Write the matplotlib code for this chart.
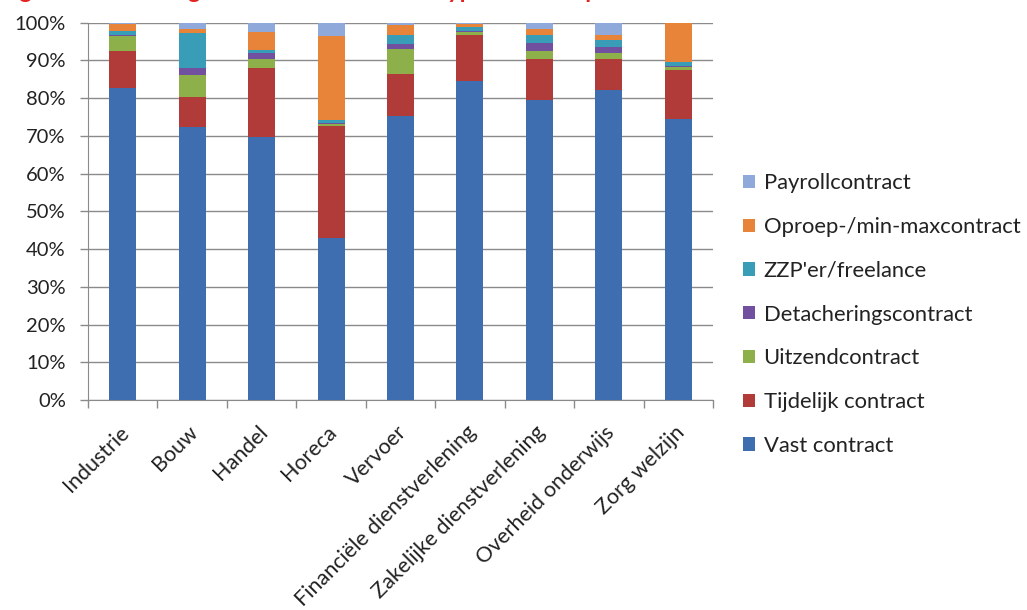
import numpy as np
from matplotlib import pyplot as plt
from matplotlib.ticker import PercentFormatter, FixedLocator, NullFormatter

plt.rcParams['font.family'] = ['Lato', 'DejaVu Sans']

sectors = ["Industrie", "Bouw", "Handel", "Horeca", "Vervoer",
           "Financiële dienstverlening", "Zakelijke dienstverlening",
           "Overheid onderwijs", "Zorg welzijn"]

# percentages per contract type, one value per sector
vast = [82.6, 72.3, 69.6, 43.0, 75.3, 84.5, 79.5, 82.1, 74.4]
tijdelijk = [10.0, 8.0, 18.3, 29.5, 11.1, 12.3, 11.0, 8.2, 13.0]
uitzend = [3.8, 5.8, 2.4, 0.7, 6.6, 0.7, 2.1, 1.6, 0.8]
detachering = [0.4, 1.8, 1.6, 0.3, 1.3, 0.3, 1.9, 1.7, 0.4]
zzp = [1.0, 9.5, 0.8, 0.6, 2.4, 1.0, 2.2, 1.8, 1.0]
oproep = [1.8, 0.9, 4.9, 22.4, 2.7, 0.8, 1.5, 1.3, 10.2]
payroll = [0.4, 1.7, 2.4, 3.5, 0.6, 0.4, 1.8, 3.3, 0.2]

series = [vast, tijdelijk, uitzend, detachering, zzp, oproep, payroll]
labels = ["Vast contract", "Tijdelijk contract", "Uitzendcontract",
          "Detacheringscontract", "ZZP'er/freelance",
          "Oproep-/min-maxcontract", "Payrollcontract"]
colors = ["#3E6EB0", "#B03B39", "#8DB04B", "#7150A0", "#3A9DB8",
          "#E8843A", "#90A9DB"]

fig = plt.figure(figsize=(10.27, 6.10), dpi=100)
ax = fig.add_axes([0.0857, 0.3443, 0.6085, 0.6185])

x = np.arange(len(sectors))
bottom = np.zeros(len(sectors))
handles = []
for vals, lab, col in zip(series, labels, colors):
    b = ax.bar(x, vals, bottom=bottom, width=0.39, color=col, label=lab, zorder=3)
    handles.append(b)
    bottom += np.array(vals)

ax.set_xlim(-0.5, len(sectors) - 0.5)
ax.set_ylim(0, 100)
ax.yaxis.set_major_locator(FixedLocator(np.arange(0, 101, 10)))
ax.yaxis.set_major_formatter(PercentFormatter(decimals=0))
ax.yaxis.grid(True, color="#8a8a8a", lw=1.0, zorder=0)

# category ticks at the boundaries, labels centred under the bars
ax.set_xticks(np.arange(-0.5, len(sectors), 1.0))
ax.xaxis.set_major_formatter(NullFormatter())
ax.set_xticks(x - 0.06, minor=True)
ax.set_xticklabels(sectors, minor=True, rotation=45, ha="right",
                   rotation_mode="anchor", fontsize=15.5, color="#222222")
ax.tick_params(axis="x", which="minor", length=0, pad=16)
ax.tick_params(axis="x", which="major", length=6, color="#8a8a8a", width=1)
ax.tick_params(axis="y", length=6, color="#8a8a8a", width=1,
               labelsize=14.5, labelcolor="#222222", pad=10)

for s in ["top", "right"]:
    ax.spines[s].set_visible(False)
ax.spines["left"].set_color("#8a8a8a")
ax.spines["bottom"].set_color("#8a8a8a")

leg = fig.legend(handles[::-1], labels[::-1], loc="upper left",
                 bbox_to_anchor=(0.704, 0.748), frameon=False, fontsize=15.8,
                 handlelength=0.55, handleheight=0.55, handletextpad=0.4,
                 labelspacing=1.08, labelcolor="#222222")

# chart title sits mostly above the cropped image edge
fig.text(0.0, 1.003, "Figuur 3: Verdeling van werknemers naar type contract per sector",
         color="#E32222", fontsize=17, fontweight="bold", ha="left", va="baseline")

fig.savefig("out.png", dpi=100)
